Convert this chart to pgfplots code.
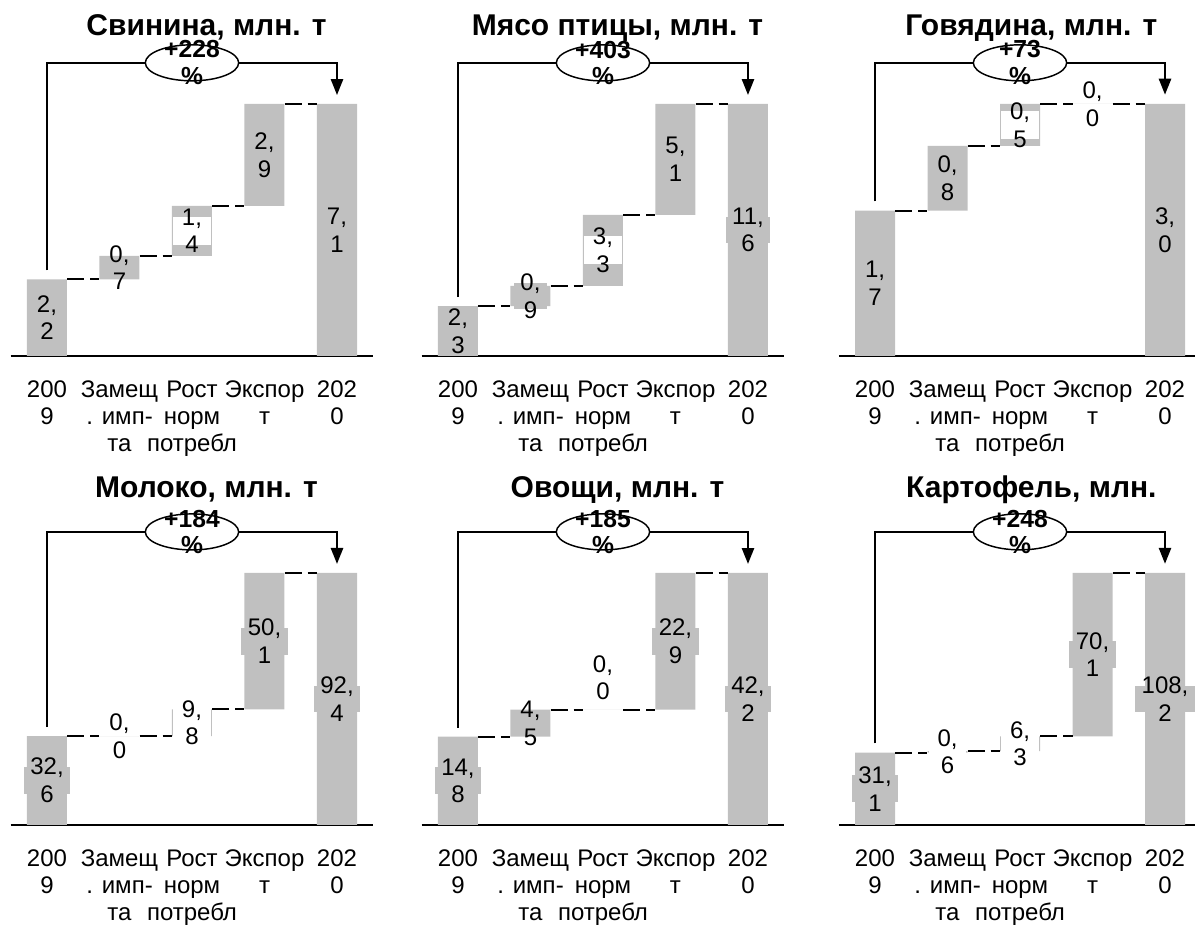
\documentclass[border=0pt]{standalone}
\usepackage{fontspec}
\setmainfont{Liberation Sans}
\usepackage{pgfplots}
\pgfplotsset{compat=1.18}
\usetikzlibrary{shapes.geometric,arrows.meta}
\definecolor{barc}{HTML}{C0C0C0}
\newcommand\ttlf{\fontsize{22.5}{27}\selectfont\bfseries}
\newcommand\lbf{\fontsize{18}{20.8}\selectfont}
\newcommand\tkf{\fontsize{18}{20.5}\selectfont}
\newcommand\pcf{\fontsize{18.5}{20}\selectfont\bfseries}
\newcommand\ts{\rule{0pt}{13.2pt}}
\pgfplotsset{
 wf/.style={scale only axis, x=54.375pt, height=258.75pt, xmin=-0.5, xmax=4.5, ymin=0,
  axis x line=bottom, axis y line=none, x axis line style={-, line width=1.5pt, black},
  xtick={0,1,2,3,4},
  xticklabels={{\ts 200\\9},{\ts Замещ\\. имп-\\та},{\ts Рост\\норм\\потребл},{\ts Экспор\\т},{\ts 202\\0}},
  major tick length=0pt, xticklabel style={font=\tkf, align=center, anchor=north, inner sep=0pt, yshift=-17.5pt},
  clip=false, anchor=south west},
 base/.style={ybar, stack plots=y, bar width=30pt, bar shift=0pt, draw=none, fill=none},
 bars/.style={ybar, stack plots=y, bar width=30pt, bar shift=0pt, draw=none, fill=barc},
 conn/.style={black, line width=1.5pt, dash pattern=on 12.75pt off 4.5pt, unbounded coords=jump},
 brk/.style={black, line width=1.9pt, -{Triangle[width=9pt,length=12pt]}},
}
\tikzset{lab/.style={font=\lbf, align=center, inner sep=0pt},
 gbox/.style={fill=barc, inner xsep=5pt, inner ysep=0pt, minimum height=20pt, font=\lbf},
 wbox/.style={fill=white, inner sep=0pt, minimum width=28pt, minimum height=21pt},
 ell/.style={ellipse, draw=black, line width=1.1pt, fill=white, minimum width=70pt, minimum height=27pt, inner sep=0pt},
 pct/.style={font=\pcf, align=center, inner sep=0pt},
 ttl/.style={font=\ttlf, anchor=base, inner sep=0pt}}
\newcommand\labN[4]{\node[lab] at (axis cs:#1,#2) {#3\\#4};}
\newcommand\labG[4]{\node[gbox] at (axis cs:#1,#2) {\phantom{#3}}; \node[lab] at (axis cs:#1,#2) {#3\\#4};}
\newcommand\labW[4]{\node[wbox] at (axis cs:#1,#2) {}; \node[lab] at (axis cs:#1,#2) {#3\\#4};}
\begin{document}
\begin{tikzpicture}
\useasboundingbox (0,0) rectangle (896.25pt,695.25pt);
% ---------- Свинина
\begin{axis}[wf, at={(8.06pt,428.25pt)}, ymax=9.72]
\addplot[base] coordinates {(0,0) (1,2.16) (2,2.82) (3,4.23) (4,0)};
\addplot[bars] coordinates {(0,2.16) (1,0.66) (2,1.41) (3,2.87) (4,7.1)};
\addplot[conn] coordinates {(0.276,2.16) (0.724,2.16) (0.724,nan) (1.276,2.82) (1.724,2.82) (1.724,nan) (2.276,4.23) (2.724,4.23) (2.724,nan) (3.276,7.1) (3.724,7.1)};
\addplot[brk] coordinates {(0,2.41) (0,8.26) (4,8.26) (4,7.35)};
\node[ell] at (axis cs:2,8.26) {};
\node[pct] at (axis cs:2,8.26) {+228\\\%};
\labN{0}{1.08}{2,}{2}
\labN{1}{2.49}{0,}{7}
\labW{2}{3.525}{1,}{4}
\labN{3}{5.665}{2,}{9}
\labN{4}{3.55}{7,}{1}
\node[ttl] at (rel axis cs:0.54,0.93) {Свинина, млн. т};
\end{axis}
% ---------- Мясо птицы
\begin{axis}[wf, at={(316.3pt,428.25pt)}, ymax=15.88]
\addplot[base] coordinates {(0,0) (1,2.3) (2,3.23) (3,6.49) (4,0)};
\addplot[bars] coordinates {(0,2.3) (1,0.93) (2,3.26) (3,5.11) (4,11.6)};
\addplot[conn] coordinates {(0.276,2.3) (0.724,2.3) (0.724,nan) (1.276,3.23) (1.724,3.23) (1.724,nan) (2.276,6.49) (2.724,6.49) (2.724,nan) (3.276,11.6) (3.724,11.6)};
\addplot[brk] coordinates {(0,2.71) (0,13.49) (4,13.49) (4,12.01)};
\node[ell] at (axis cs:2,13.49) {};
\node[pct] at (axis cs:2,13.49) {+403\\\%};
\labN{0}{1.15}{2,}{3}
\labG{1}{2.765}{0,}{9}
\labW{2}{4.86}{3,}{3}
\labN{3}{9.045}{5,}{1}
\labG{4}{5.8}{11,}{6}
\node[ttl] at (rel axis cs:0.54,0.93) {Мясо птицы, млн. т};
\end{axis}
% ---------- Говядина
\begin{axis}[wf, at={(629.06pt,428.25pt)}, ymax=4.107, xmax=4.42]
\addplot[base] coordinates {(0,0) (1,1.73) (2,2.5) (3,3.0) (4,0)};
\addplot[bars] coordinates {(0,1.73) (1,0.77) (2,0.5) (3,0) (4,3.0)};
\addplot[conn] coordinates {(0.276,1.73) (0.724,1.73) (0.724,nan) (1.276,2.5) (1.724,2.5) (1.724,nan) (2.276,3.0) (2.724,3.0) (2.724,nan) (3.276,3.0) (3.724,3.0)};
\addplot[brk] coordinates {(0,1.84) (0,3.49) (4,3.49) (4,3.11)};
\node[ell] at (axis cs:2,3.49) {};
\node[pct] at (axis cs:2,3.49) {+73\\\%};
\labN{0}{0.865}{1,}{7}
\labN{1}{2.115}{0,}{8}
\labW{2}{2.75}{0,}{5}
\labN{3}{3.0}{0,}{0}
\labN{4}{1.5}{3,}{0}
\node[ttl] at (rel axis cs:0.54,0.93) {Говядина, млн. т};
\end{axis}
% ---------- Молоко
\begin{axis}[wf, at={(8.06pt,76.5pt)}, ymax=126.5]
\addplot[base] coordinates {(0,0) (1,32.6) (2,32.6) (3,42.4) (4,0)};
\addplot[bars] coordinates {(0,32.6) (1,0) (2,9.8) (3,50.0) (4,92.4)};
\addplot[conn] coordinates {(0.276,32.6) (0.724,32.6) (0.724,nan) (1.276,32.6) (1.724,32.6) (1.724,nan) (2.276,42.4) (2.724,42.4) (2.724,nan) (3.276,92.4) (3.724,92.4)};
\addplot[brk] coordinates {(0,35.9) (0,107.46) (4,107.46) (4,95.7)};
\node[ell] at (axis cs:2,107.46) {};
\node[pct] at (axis cs:2,107.46) {+184\\\%};
\labG{0}{16.3}{32,}{6}
\labN{1}{32.6}{0,}{0}
\labW{2}{37.5}{9,}{8}
\labG{3}{67.4}{50,}{1}
\labG{4}{46.2}{92,}{4}
\node[ttl] at (rel axis cs:0.54,0.948) {Молоко, млн. т};
\end{axis}
% ---------- Овощи
\begin{axis}[wf, at={(316.3pt,76.5pt)}, ymax=57.77]
\addplot[base] coordinates {(0,0) (1,14.8) (2,19.3) (3,19.3) (4,0)};
\addplot[bars] coordinates {(0,14.8) (1,4.5) (2,0) (3,22.9) (4,42.2)};
\addplot[conn] coordinates {(0.276,14.8) (0.724,14.8) (0.724,nan) (1.276,19.3) (1.724,19.3) (1.724,nan) (2.276,19.3) (2.724,19.3) (2.724,nan) (3.276,42.2) (3.724,42.2)};
\addplot[brk] coordinates {(0,16.3) (0,49.08) (4,49.08) (4,43.7)};
\node[ell] at (axis cs:2,49.08) {};
\node[pct] at (axis cs:2,49.08) {+185\\\%};
\labG{0}{7.4}{14,}{8}
\labN{1}{17.05}{4,}{5}
\labN{2}{24.66}{0,}{0}
\labG{3}{30.75}{22,}{9}
\labG{4}{21.1}{42,}{2}
\node[ttl] at (rel axis cs:0.54,0.948) {Овощи, млн. т};
\end{axis}
% ---------- Картофель
\begin{axis}[wf, at={(629.06pt,76.5pt)}, ymax=148.1, xmax=4.42]
\addplot[base] coordinates {(0,0) (1,31.1) (2,31.7) (3,38.0) (4,0)};
\addplot[bars] coordinates {(0,31.1) (1,0.6) (2,6.3) (3,70.2) (4,108.2)};
\addplot[conn] coordinates {(0.276,31.1) (0.724,31.1) (0.724,nan) (1.276,31.7) (1.724,31.7) (1.724,nan) (2.276,38.0) (2.724,38.0) (2.724,nan) (3.276,108.2) (3.724,108.2)};
\addplot[brk] coordinates {(0,35.0) (0,125.84) (4,125.84) (4,112.1)};
\node[ell] at (axis cs:2,125.84) {};
\node[pct] at (axis cs:2,125.84) {+248\\\%};
\labG{0}{15.55}{31,}{1}
\labW{1}{31.4}{0,}{6}
\labW{2}{34.85}{6,}{3}
\labG{3}{73.1}{70,}{1}
\labG{4}{54.1}{108,}{2}
\node[ttl] at (rel axis cs:0.54,0.948) {Картофель, млн.};
\end{axis}
\end{tikzpicture}
\end{document}
